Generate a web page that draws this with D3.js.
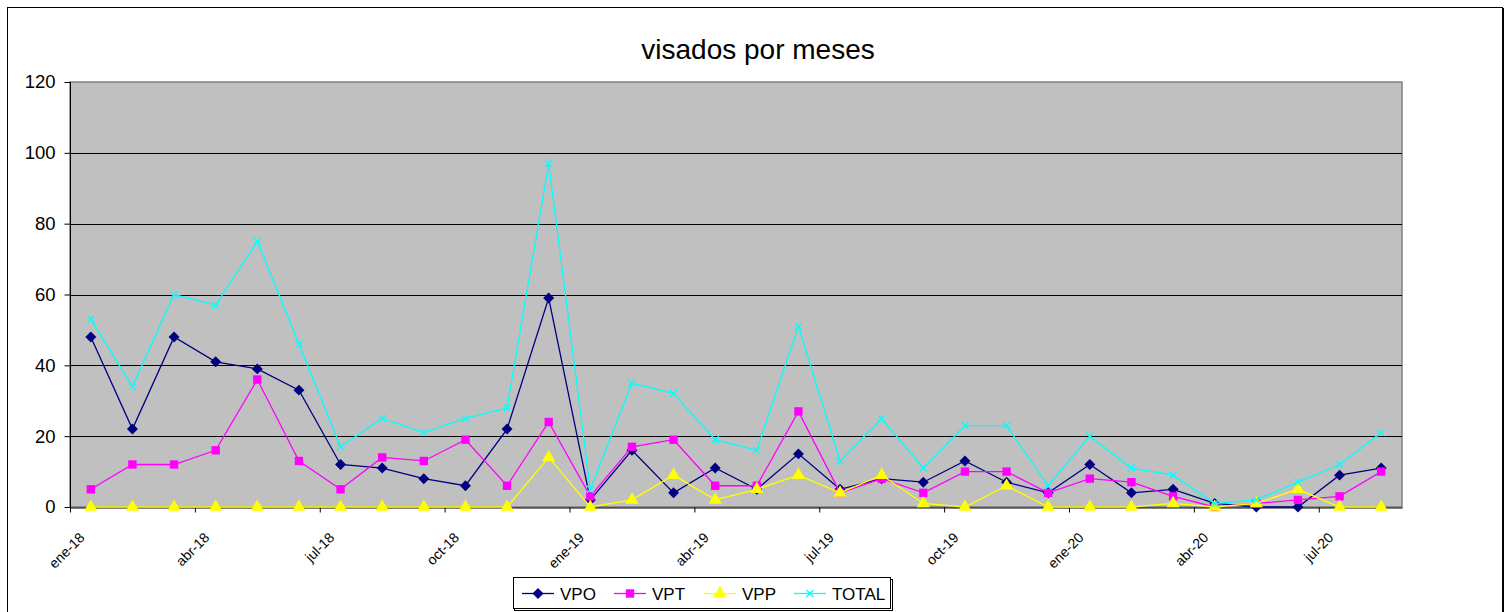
<!DOCTYPE html>
<html><head><meta charset="utf-8">
<script src="https://cdn.jsdelivr.net/npm/d3@7"></script>
<style>
html,body{margin:0;padding:0;background:#fff;}
svg{display:block;font-family:Arial,"Liberation Sans",sans-serif;}
</style></head>
<body>
<svg id="chart" width="1506" height="612"></svg>
<script>
const months = ["ene-18","feb-18","mar-18","abr-18","may-18","jun-18","jul-18","ago-18","sep-18","oct-18","nov-18","dic-18",
  "ene-19","feb-19","mar-19","abr-19","may-19","jun-19","jul-19","ago-19","sep-19","oct-19","nov-19","dic-19",
  "ene-20","feb-20","mar-20","abr-20","may-20","jun-20","jul-20","ago-20"];
const tickLabels = ["ene-18","abr-18","jul-18","oct-18","ene-19","abr-19","jul-19","oct-19","ene-20","abr-20","jul-20"];
const yTicks = [0,20,40,60,80,100,120];
const VPO   = [48,22,48,41,39,33,12,11,8,6,22,59, 2,16,4,11,5,15,5,8,7,13,7,4, 12,4,5,1,0,0,9,11];
const VPT   = [5,12,12,16,36,13,5,14,13,19,6,24, 3,17,19,6,6,27,4,8,4,10,10,4, 8,7,3,0,1,2,3,10];
const VPP   = [0,0,0,0,0,0,0,0,0,0,0,14, 0,2,9,2,5,9,4,9,1,0,6,0, 0,0,1,0,1,5,0,0];
const TOTAL = [53,34,60,57,75,46,17,25,21,25,28,97, 5,35,32,19,16,51,13,25,11,23,23,6, 20,11,9,1,2,7,12,21];
const seriesNames = ["VPO","VPT","VPP","TOTAL"];

const diamond = { draw(ctx, size){ const r = Math.sqrt(size/2); ctx.moveTo(0,-r); ctx.lineTo(r,0); ctx.lineTo(0,r); ctx.lineTo(-r,0); ctx.closePath(); } };
const series = [
  {name:"VPO", values:VPO, color:"#000080", sym:diamond, size:60},
  {name:"VPT", values:VPT, color:"#FF00FF", sym:d3.symbolSquare, size:70},
  {name:"VPP", values:VPP, color:"#FFFF00", sym:d3.symbolTriangle, size:75},
  {name:"TOTAL", values:TOTAL, color:"#00FFFF", sym:"x", size:7}
];

const svg = d3.select("#chart");
const L=70, R=1402, T=82, B=507;
const x = d3.scaleLinear().domain([0, months.length]).range([L, R]);
const y = d3.scaleLinear().domain([0, 120]).range([B, T]);

// outer border
svg.append("rect").attr("x",7.5).attr("y",7.5).attr("width",1495).attr("height",700)
  .attr("fill","#fff").attr("stroke","#000").attr("stroke-width",1);
svg.append("line").attr("x1",1503.5).attr("x2",1503.5).attr("y1",8).attr("y2",612).attr("stroke","#000").attr("stroke-width",1);

// title
svg.append("text").attr("x",758).attr("y",59).attr("text-anchor","middle")
  .attr("font-size",28).attr("fill","#000").text("visados por meses");

// plot area
svg.append("rect").attr("x",L).attr("y",T).attr("width",R-L).attr("height",B-T)
  .attr("fill","#C0C0C0").attr("stroke","#808080").attr("stroke-width",1.5);

// gridlines
svg.append("g").selectAll("line").data(yTicks.filter(v=>v>0 && v<120)).join("line")
  .attr("x1",L).attr("x2",R)
  .attr("y1",d=>Math.round(y(d))+0.5).attr("y2",d=>Math.round(y(d))+0.5)
  .attr("stroke","#000").attr("stroke-width",1);

// y axis
const yAxis = d3.axisLeft(y).tickValues(yTicks).tickSize(6).tickPadding(9);
const gy = svg.append("g").attr("transform",`translate(${L+0.5},0)`).call(yAxis);
gy.selectAll("text").attr("font-size",18.5).attr("font-family","Arial, 'Liberation Sans', sans-serif").attr("fill","#000");
gy.selectAll("line,path").attr("stroke","#000");
gy.select(".domain").attr("d",`M0,${T}V${B}`);

// x axis
const xTickVals = tickLabels.map((_,i)=>i*3);
const xAxis = d3.axisBottom(x).tickValues(xTickVals).tickFormat((d,i)=>tickLabels[i]).tickSize(5).tickSizeOuter(0);
const gx = svg.append("g").attr("transform",`translate(0,${B+0.5})`).call(xAxis);
gx.selectAll("line,path").attr("stroke","#000");
gx.selectAll("text").attr("font-size",14).attr("font-family","Arial, 'Liberation Sans', sans-serif").attr("fill","#000")
  .attr("text-anchor","end").attr("dy",null).attr("y",null)
  .attr("transform","translate(15,31) rotate(-45)");

// series
const cx = i => x(i+0.5);
function drawMarker(g, s, px, py){
  if(s.sym==="x"){
    const h=3.5;
    g.append("path").attr("d",`M${px-h},${py-h}L${px+h},${py+h}M${px-h},${py+h}L${px+h},${py-h}`)
      .attr("stroke",s.color).attr("stroke-width",1.3).attr("fill","none");
  } else {
    g.append("path").attr("d",d3.symbol().type(s.sym).size(s.size)())
      .attr("transform",`translate(${px},${py})`).attr("fill",s.color).attr("stroke","none");
  }
}
series.forEach(s=>{
  const g = svg.append("g");
  const line = d3.line().x((d,i)=>cx(i)).y(d=>y(d));
  g.append("path").datum(s.values).attr("d",line).attr("fill","none")
    .attr("stroke",s.color).attr("stroke-width",1.3);
  s.values.forEach((v,i)=>drawMarker(g,s,cx(i),y(v)));
});

// legend
const lg = svg.append("g");
lg.append("rect").attr("x",514.5).attr("y",579.5).attr("width",378).attr("height",31).attr("fill","#fff").attr("stroke","#000");
lg.append("rect").attr("x",513.5).attr("y",577.5).attr("width",377).attr("height",31).attr("fill","#fff").attr("stroke","#000");
const legX = [522, 614, 704, 794];
series.forEach((s,i)=>{
  const x0 = legX[i], yy = 593.5;
  lg.append("line").attr("x1",x0).attr("x2",x0+32).attr("y1",yy).attr("y2",yy).attr("stroke",s.color).attr("stroke-width",1.3);
  drawMarker(lg,s,x0+16,yy);
  lg.append("text").attr("x",x0+38).attr("y",yy+6.5).attr("font-size",17).attr("fill","#000").text(seriesNames[i]);
});
</script>
</body></html>
